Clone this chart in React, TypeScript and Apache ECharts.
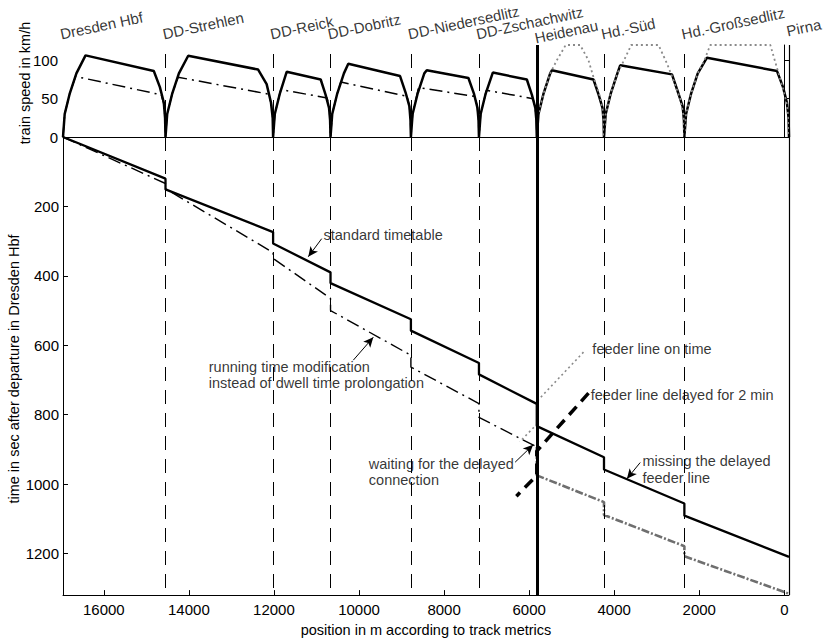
import { useEffect, useRef } from "react";
import * as echarts from "echarts";

// ---------- data ----------
const stationNames = [
  "Dresden Hbf", "DD-Strehlen", "DD-Reick", "DD-Dobritz", "DD-Niedersedlitz",
  "DD-Zschachwitz", "Heidenau", "Hd.-Süd", "Hd.-Großsedlitz", "Pirna",
];
const stationPos = [16960, 14550, 12020, 10670, 8780, 7180, 5820, 4240, 2350, -110];

const xTicks = [0, 2000, 4000, 6000, 8000, 10000, 12000, 14000, 16000];
const speedTicks = [0, 50, 100];
const timeTicks = [200, 400, 600, 800, 1000, 1200];

// speed profile, standard timetable [position m, km/h]
const speedStandard: number[][] = [
  [16960, 0], [16920, 30], [16800, 57], [16645, 83], [16430, 106.5], [14825, 86], [14682, 65], [14590, 45], [14560, 25], [14550, 0],
  [14510, 30], [14390, 57], [14235, 83], [14016, 106], [12372, 88], [12172, 69], [12070, 45], [12030, 25], [12020, 0],
  [11980, 30], [11860, 57], [11701, 85], [10901, 75], [10785, 55], [10705, 38], [10680, 22], [10670, 0],
  [10630, 30], [10510, 57], [10355, 83], [10252, 95.5], [9035, 79.5], [8905, 58], [8815, 40], [8790, 22], [8780, 0],
  [8740, 30], [8620, 57], [8465, 83], [8407, 87], [7428, 77], [7300, 57], [7215, 38], [7190, 22], [7180, 0],
  [7140, 30], [7020, 57], [6854, 84], [6054, 75], [5935, 55], [5855, 38], [5830, 22], [5820, 0],
  [5780, 30], [5660, 57], [5505, 83], [5466, 87], [4487, 75], [4365, 55], [4275, 38], [4250, 22], [4240, 0],
  [4200, 30], [4080, 57], [3925, 83], [3859, 93.5], [2642, 81.7], [2510, 60], [2390, 40], [2360, 22], [2350, 0],
  [2310, 30], [2190, 57], [2035, 83], [1819, 103.5], [172, 86], [30, 65], [-60, 45], [-100, 25], [-110, 0],
];

// speed profile, running time modification
const speedModified: number[][] = [
  [16960, 0], [16920, 30], [16800, 57], [16665, 79], [14650, 55], [14590, 43], [14560, 25], [14550, 0],
  [14510, 30], [14390, 57], [14255, 78], [12130, 56], [12060, 43], [12030, 25], [12020, 0],
  [11980, 30], [11840, 61.8], [10750, 51], [10700, 38], [10680, 22], [10670, 0],
  [10630, 30], [10510, 57], [10427, 71.7], [8870, 53], [8815, 40], [8790, 22], [8780, 0],
  [8740, 30], [8600, 64.4], [7280, 53], [7220, 40], [7190, 22], [7180, 0],
  [7140, 30], [7004, 61], [5910, 50], [5855, 38], [5830, 22], [5820, 0],
];

// speed profile after waiting for the delayed connection
const speedWaiting: number[][] = [
  [5820, 0], [5780, 30], [5660, 57], [5505, 83], [5350, 100], [5140, 120], [4800, 120], [4604, 100], [4487, 78], [4329, 52], [4270, 35], [4250, 20], [4240, 0],
  [4200, 30], [4080, 57], [3925, 83], [3770, 100], [3600, 120], [2958, 120], [2760, 96], [2612, 75], [2450, 50], [2380, 32], [2360, 20], [2350, 0],
  [2310, 30], [2190, 57], [2035, 83], [1880, 100], [1741, 120], [329, 120], [172, 90], [40, 65], [-50, 45], [-100, 25], [-110, 0],
];

// time-distance lines [position m, s]
const timeStandard: number[][] = [
  [16960, 0], [14550, 120], [14550, 151], [12020, 274], [12020, 307], [10670, 390], [10670, 421],
  [8780, 525], [8780, 558], [7180, 651], [7180, 684], [5820, 769], [5820, 833],
  [4240, 923], [4240, 958], [2350, 1056], [2350, 1091], [-110, 1210],
];
const timeModified: number[][] = [
  [16960, 0], [14550, 134], [14550, 149], [12020, 333], [12020, 350], [10670, 465], [10670, 500],
  [8780, 629], [8780, 663], [7180, 768], [7180, 808], [5820, 893],
];
const timeWaiting: number[][] = [
  [5820, 893], [5820, 975], [4240, 1052], [4240, 1089], [2350, 1179], [2350, 1208], [-110, 1316],
];
const feederOnTime: number[][] = [[4722, 620], [5820, 762], [5820, 828], [6220, 878]];
const feederDelayed: number[][] = [[4604, 738], [5820, 905], [5820, 975], [6300, 1035]];

// annotations
const noteTexts = [
  "standard timetable",
  "running time modification\ninstead of dwell time prolongation",
  "feeder line on time",
  "feeder line delayed for 2 min",
  "waiting for the delayed\nconnection",
  "missing the delayed\nfeeder line",
];
const noteAnchors: number[][] = [
  [10847, 281], [13545, 686], [4525, 610], [4565, 743], [9781, 966], [3348, 958],
];
const arrowFrom: number[][] = [[10878, 293], [10134, 643], [6329, 937], [3388, 938]];
const arrowTo: number[][] = [[11193, 345], [9664, 577], [5906, 887], [3701, 985]];

// ---------- option ----------
const FONT = "Liberation Sans, Arial, Helvetica, sans-serif";
const BLACK = "#000";
const plain = (v: number) => String(v);

function stationLineStyle(name: string) {
  if (name === "Heidenau") return { color: BLACK, width: 3, type: "solid" as const };
  if (name === "Pirna") return { color: BLACK, width: 1.2, type: "solid" as const };
  return { color: BLACK, width: 1, type: [14, 9] };
}

const stationLines = stationNames
  .map((name, i) => ({ name, pos: stationPos[i] }))
  .filter((s) => s.name !== "Dresden Hbf")
  .map((s) => ({ xAxis: s.pos, lineStyle: stationLineStyle(s.name) }));

function markLineFor() {
  return {
    silent: true,
    symbol: ["none", "none"],
    label: { show: false },
    animation: false,
    data: stationLines,
  };
}

const xAxisCommon = {
  type: "value" as const,
  inverse: true,
  min: -110,
  max: 16960,
  splitLine: { show: false },
};

const option: any = {
  animation: false,
  backgroundColor: "#fff",
  textStyle: { fontFamily: FONT, color: BLACK },
  grid: [
    { left: 63, right: 35, top: 45, height: 92 },
    { left: 63, right: 35, top: 137, height: 464 },
  ],
  xAxis: [
    {
      ...xAxisCommon,
      gridIndex: 0,
      position: "bottom",
      axisLine: { show: true, onZero: false, lineStyle: { color: BLACK, width: 1 } },
      axisTick: { show: false },
      axisLabel: { show: false },
    },
    {
      ...xAxisCommon,
      gridIndex: 1,
      position: "bottom",
      name: "position in m according to track metrics",
      nameLocation: "middle",
      nameGap: 26,
      nameTextStyle: { fontSize: 14.5, color: BLACK, fontFamily: FONT },
      axisLine: { show: true, onZero: false, lineStyle: { color: BLACK, width: 1 } },
      axisTick: { show: true, inside: true, length: 5, customValues: xTicks, lineStyle: { color: BLACK } },
      axisLabel: { show: true, customValues: xTicks, formatter: plain, margin: 7, fontSize: 15, color: BLACK, fontFamily: FONT },
    },
  ],
  yAxis: [
    {
      type: "value",
      gridIndex: 0,
      min: 0,
      max: 120,
      splitLine: { show: false },
      axisLine: { show: true, lineStyle: { color: BLACK, width: 1 } },
      axisTick: { show: true, inside: true, length: 5, customValues: speedTicks, lineStyle: { color: BLACK } },
      axisLabel: { customValues: speedTicks, formatter: plain, margin: 5, fontSize: 15, color: BLACK, fontFamily: FONT },
    },
    {
      type: "value",
      gridIndex: 1,
      inverse: true,
      min: 0,
      max: 1320,
      splitLine: { show: false },
      axisLine: { show: true, onZero: false, lineStyle: { color: BLACK, width: 1 } },
      axisTick: { show: true, inside: true, length: 5, customValues: timeTicks, lineStyle: { color: BLACK } },
      axisLabel: { customValues: timeTicks, formatter: plain, margin: 4, fontSize: 15, color: BLACK, fontFamily: FONT },
    },
  ],
  graphic: [
    {
      type: "text",
      x: 25,
      y: 83,
      rotation: Math.PI / 2,
      style: { text: "train speed in km/h", fontSize: 14.5, fontFamily: FONT, fill: BLACK, align: "center", verticalAlign: "middle" },
    },
    {
      type: "text",
      x: 14,
      y: 369,
      rotation: Math.PI / 2,
      style: { text: "time in sec after departure in Dresden Hbf", fontSize: 14.5, fontFamily: FONT, fill: BLACK, align: "center", verticalAlign: "middle" },
    },
  ],
  series: [
    // station lines, speed panel
    {
      type: "line", xAxisIndex: 0, yAxisIndex: 0, z: 1,
      data: [[16960, 0]], showSymbol: false, lineStyle: { opacity: 0 },
      markLine: markLineFor(),
    },
    // station lines, time panel
    {
      type: "line", xAxisIndex: 1, yAxisIndex: 1, z: 1,
      data: [[16960, 0]], showSymbol: false, lineStyle: { opacity: 0 },
      markLine: markLineFor(),
    },
    // speed lines
    {
      type: "line", name: "speed standard", xAxisIndex: 0, yAxisIndex: 0, z: 3,
      data: speedStandard, showSymbol: false, symbol: "none",
      lineStyle: { color: BLACK, width: 2.5 },
    },
    {
      type: "line", name: "speed modified", xAxisIndex: 0, yAxisIndex: 0, z: 4,
      data: speedModified, showSymbol: false, symbol: "none",
      lineStyle: { color: BLACK, width: 1.5, type: [13, 5, 2, 5] },
    },
    {
      type: "line", name: "speed waiting", xAxisIndex: 0, yAxisIndex: 0, z: 4, clip: false,
      data: speedWaiting, showSymbol: false, symbol: "none",
      lineStyle: { color: "#8a8a8a", width: 1.8, type: [2, 3] },
    },
    // station labels
    {
      type: "scatter", xAxisIndex: 0, yAxisIndex: 0, z: 5, clip: false,
      symbolSize: 1, itemStyle: { color: "transparent" }, silent: true,
      data: stationNames.map((name, i) => ({
        name,
        value: [stationPos[i], 120],
        label: { offset: name === "Heidenau" ? [0, 1] : name === "Pirna" ? [1, -6] : [0, -3] },
      })),
      label: {
        show: true, formatter: "{b}", position: [0, 0], align: "left", verticalAlign: "bottom",
        rotate: 12, fontSize: 15, color: BLACK, fontFamily: FONT,
      },
    },
    // time lines
    {
      type: "line", name: "standard timetable", xAxisIndex: 1, yAxisIndex: 1, z: 3,
      data: timeStandard, showSymbol: false, symbol: "none",
      lineStyle: { color: BLACK, width: 2.3 },
    },
    {
      type: "line", name: "running time modification", xAxisIndex: 1, yAxisIndex: 1, z: 3,
      data: timeModified, showSymbol: false, symbol: "none",
      lineStyle: { color: BLACK, width: 1.4, type: [13, 5, 2, 5] },
    },
    {
      type: "line", name: "waiting for the delayed connection", xAxisIndex: 1, yAxisIndex: 1, z: 3,
      data: timeWaiting, showSymbol: false, symbol: "none",
      lineStyle: { color: "#6f6f6f", width: 2.6, type: [8, 2, 2, 2] },
    },
    {
      type: "line", name: "feeder line on time", xAxisIndex: 1, yAxisIndex: 1, z: 3,
      data: feederOnTime, showSymbol: false, symbol: "none",
      lineStyle: { color: "#8a8a8a", width: 1.6, type: [2, 3] },
    },
    {
      type: "line", name: "feeder line delayed for 2 min", xAxisIndex: 1, yAxisIndex: 1, z: 4,
      data: feederDelayed, showSymbol: false, symbol: "none",
      lineStyle: { color: BLACK, width: 3.5, type: [11, 7] },
    },
    // annotations
    {
      type: "scatter", xAxisIndex: 1, yAxisIndex: 1, z: 6,
      symbolSize: 1, itemStyle: { color: "transparent" }, silent: true,
      data: noteTexts.map((t, i) => ({ name: t, value: noteAnchors[i] })),
      label: {
        show: true, formatter: "{b}", position: "right", distance: 0,
        fontSize: 14.5, lineHeight: 16.5, color: BLACK, fontFamily: FONT,
      },
      markLine: {
        silent: true,
        symbol: ["none", "arrow"],
        symbolSize: [7, 10],
        label: { show: false },
        animation: false,
        lineStyle: { color: BLACK, width: 1, type: "solid" },
        data: arrowFrom.map((f, i) => [{ coord: f }, { coord: arrowTo[i] }]),
      },
    },
  ],
};

export default function App() {
  const ref = useRef<HTMLDivElement>(null);
  useEffect(() => {
    const chart = echarts.init(ref.current!, null, { renderer: "svg" });
    chart.setOption(option);
    return () => chart.dispose();
  }, []);
  return (
    <div
      ref={ref}
      style={{ position: "fixed", left: 0, top: 0, width: 824, height: 642, background: "#fff" }}
    />
  );
}
